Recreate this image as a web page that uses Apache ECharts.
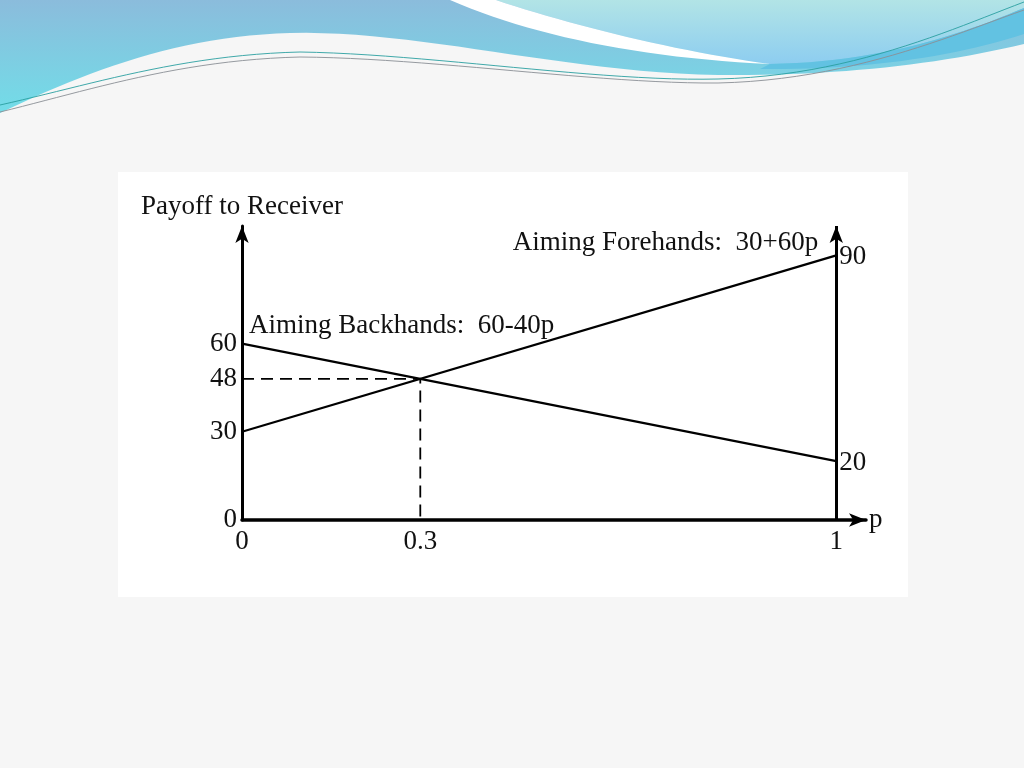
<!DOCTYPE html>
<html><head><meta charset="utf-8">
<script src="https://cdn.jsdelivr.net/npm/echarts@6/dist/echarts.min.js"></script>
<style>html,body{margin:0;padding:0;background:#f6f6f6;}#c{width:1024px;height:768px;}</style>
</head><body><div id="c"></div>
<script>
// ---- data ----
const pValues = [0, 1];
const forehandValues = [30, 90];
const backhandValues = [60, 20];
const crossP = 0.3;
const crossValue = 48;
const yTickLabels = [0, 30, 48, 60];
const xTickLabels = [0, 0.3, 1];
const forehandName = 'Aiming Forehands:  30+60p';
const backhandName = 'Aiming Backhands:  60-40p';
const yAxisName = 'Payoff to Receiver';
const xAxisName = 'p';

const FONT = 'Liberation Serif';
const FS = 27;
const ink = '#111';

// ---- decorative header: sample simple "M x,y L x,y C ..." paths into point lists ----
function samplePath(d) {
  const t = d.replace(/([MLCZ])/g, ' $1 ').trim().split(/[\s,]+/);
  const pts = []; let i = 0, cur = [0, 0], cmd = '';
  while (i < t.length) {
    if (/^[MLCZ]$/.test(t[i])) { cmd = t[i++]; if (cmd === 'Z') continue; }
    if (cmd === 'M' || cmd === 'L') { cur = [+t[i], +t[i + 1]]; i += 2; pts.push(cur); }
    else if (cmd === 'C') {
      const p1 = [+t[i], +t[i + 1]], p2 = [+t[i + 2], +t[i + 3]], p3 = [+t[i + 4], +t[i + 5]]; i += 6;
      const p0 = cur;
      for (let k = 1; k <= 24; k++) {
        const s = k / 24, u = 1 - s;
        pts.push([
          u*u*u*p0[0] + 3*u*u*s*p1[0] + 3*u*s*s*p2[0] + s*s*s*p3[0],
          u*u*u*p0[1] + 3*u*u*s*p1[1] + 3*u*s*s*p2[1] + s*s*s*p3[1]
        ]);
      }
      cur = p3;
    } else i++;
  }
  return pts;
}
const vgrad = (a, b) => ({type: 'linear', x: 0, y: 0, x2: 0, y2: 1, colorStops: [{offset: 0, color: a}, {offset: 1, color: b}]});
const poly = (d, fill, z) => ({type: 'polygon', z: z, silent: true, shape: {points: samplePath(d)}, style: {fill: fill}});
const pline = (d, stroke, z) => ({type: 'polyline', z: z, silent: true, shape: {points: samplePath(d)}, style: {fill: null, stroke: stroke, lineWidth: 0.9}});

const chart = echarts.init(document.getElementById('c'), null, {renderer: 'canvas'});

const option = {
  animation: false,
  backgroundColor: 'transparent',
  graphic: [
    {type: 'rect', z: -10, silent: true, shape: {x: 118, y: 172, width: 790, height: 425}, style: {fill: '#ffffff'}},
    poly('M0,0 L1024,0 L1024,44 C940,64 840,76 718,75 C560,72 420,30 290,33 C180,36 90,70 0,113 Z', vgrad('#8bbcdc', '#72dde8'), -10),
    poly('M496,0 L1024,0 L1024,8 C960,35 880,62 770,64 C680,52 570,25 496,0 Z', vgrad('#b2e4e6', '#8dcdf0'), -9),
    poly('M770,64 C880,62 960,35 1024,8 L1024,34 C950,58 860,70 760,69 Z', '#62c2e2', -9),
    poly('M450,0 L496,0 C570,25 680,52 770,64 C640,58 530,35 450,0 Z', '#ffffff', -9),
    pline('M0,105 C90,85 180,55 300,52 C430,54 600,82 718,79 C850,76 950,30 1024,2', '#2a9fa0', -8),
    pline('M0,112 C90,90 180,60 300,57 C430,58 600,84 718,83 C850,80 950,36 1024,10', '#8a8f95', -8)
  ],
  grid: {left: 242, top: 226, right: 158, bottom: 248, containLabel: false},
  xAxis: {
    type: 'value', min: 0, max: 1.05,
    name: xAxisName, nameLocation: 'end', nameGap: 3,
    nameTextStyle: {fontFamily: FONT, fontSize: FS, color: ink, verticalAlign: 'middle'},
    axisLine: {show: true, lineStyle: {color: '#000', width: 3.5}, symbol: ['none', 'arrow'], symbolSize: [10, 17]},
    axisTick: {show: false},
    splitLine: {show: false},
    axisLabel: {customValues: xTickLabels, fontFamily: FONT, fontSize: FS, color: ink, margin: 8,
      formatter: v => String(v)}
  },
  yAxis: {
    type: 'value', min: 0, max: 100,
    name: yAxisName, nameLocation: 'end', nameGap: 6,
    nameTextStyle: {fontFamily: FONT, fontSize: FS, color: ink, align: 'center'},
    axisLine: {show: true, lineStyle: {color: '#000', width: 3}, symbol: ['none', 'arrow'], symbolSize: [10, 17]},
    axisTick: {show: false},
    splitLine: {show: false},
    axisLabel: {customValues: yTickLabels, fontFamily: FONT, fontSize: FS, color: ink, margin: 5,
      formatter: v => String(v)}
  },
  series: [
    {
      type: 'line', name: 'forehand', silent: true,
      data: pValues.map((p, i) => [p, forehandValues[i]]),
      symbol: 'none', lineStyle: {color: '#000', width: 2.2},
      endLabel: {show: true, formatter: p => String(p.value[1]), fontFamily: FONT, fontSize: FS, color: ink, distance: 3, offset: [0, 2]},
      markPoint: {symbol: 'circle', symbolSize: 0, silent: true,
        data: [{coord: [pValues[1], forehandValues[1]]}],
        label: {show: true, position: 'left', distance: 18, offset: [0, -12], formatter: forehandName,
          fontFamily: FONT, fontSize: FS, color: ink}}
    },
    {
      type: 'line', name: 'backhand', silent: true,
      data: pValues.map((p, i) => [p, backhandValues[i]]),
      symbol: 'none', lineStyle: {color: '#000', width: 2.2},
      endLabel: {show: true, formatter: p => String(p.value[1]), fontFamily: FONT, fontSize: FS, color: ink, distance: 3, offset: [0, 2]},
      markPoint: {symbol: 'circle', symbolSize: 0, silent: true,
        data: [{coord: [pValues[0], backhandValues[0]]}],
        label: {show: true, position: 'right', distance: 7, offset: [0, -18], formatter: backhandName,
          fontFamily: FONT, fontSize: FS, color: ink}}
    },
    {
      type: 'line', name: 'dashed', silent: true,
      data: [[0, crossValue], [crossP, crossValue], [crossP, 0]],
      symbol: 'none', lineStyle: {color: '#000', width: 1.8, type: [12, 7]}
    },
    {
      type: 'line', name: 'rightAxis', silent: true, data: [], symbol: 'none',
      markLine: {silent: true, symbol: ['none', 'arrow'], symbolSize: [10, 17],
        lineStyle: {color: '#000', width: 3, type: 'solid'}, label: {show: false},
        data: [[{coord: [1, 0]}, {coord: [1, 100]}]]}
    }
  ]
};
chart.setOption(option);
</script>
</body></html>
